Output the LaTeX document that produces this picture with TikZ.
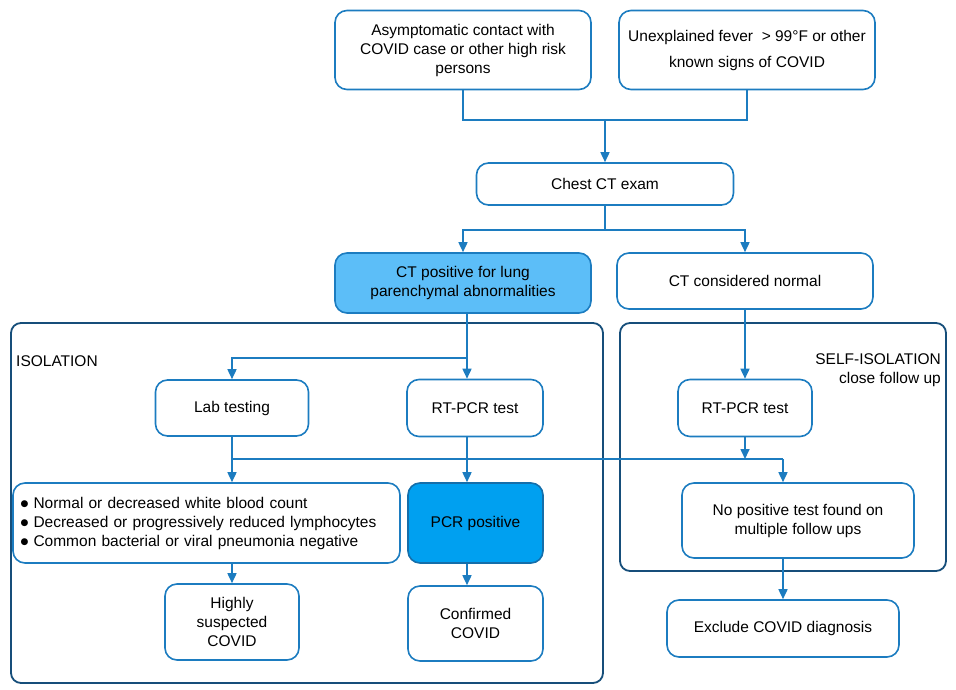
\documentclass[tikz,border=0pt]{standalone}
\usepackage{fontspec}
\setmainfont{Liberation Sans}
\newfontfamily\symfont{DejaVu Sans}
\usetikzlibrary{arrows.meta, positioning}
\definecolor{boxblue}{RGB}{28,124,192}
\definecolor{grpblue}{RGB}{22,78,122}
\definecolor{ctfill}{RGB}{92,190,248}
\definecolor{pcrfill}{RGB}{0,160,240}
\definecolor{pcredge}{RGB}{20,110,170}
\newcommand{\bul}{\raisebox{1.2pt}{\symfont\fontsize{9}{9}\selectfont ●}\ }
\tikzset{
  box/.style    = {draw=boxblue, line width=1.6pt, rounded corners=12pt, fill=white,
                   align=center, font=\fontsize{15.5}{19}\selectfont, inner sep=3pt},
  ctbox/.style  = {box, fill=ctfill},
  pcrbox/.style = {box, fill=pcrfill, draw=pcredge},
  group/.style  = {draw=grpblue, line width=1.8pt, rounded corners=10pt},
  line/.style   = {draw=boxblue, line width=1.6pt},
  arrow/.style  = {line, -{Triangle[length=10pt, width=9pt]}},
  tag/.style    = {font=\fontsize{15.5}{19}\selectfont, inner sep=0pt},
}

\begin{document}
\begin{tikzpicture}[x=1pt, y=-1pt]
  \useasboundingbox (0,0) rectangle (956,690);
  % containers
  \node[group, minimum width=592pt, minimum height=360pt] (iso) at (307,503) {};
  \node[group, minimum width=326pt, minimum height=248pt] (selfiso) at (783,447) {};
  \node[tag, anchor=west] (isolbl) at (16,361) {ISOLATION};
  \node[tag, anchor=east, align=right] (selflbl) at (941,370.5) {SELF-ISOLATION\\close follow up};
  % top level
  \node[box, minimum width=256pt, minimum height=79pt] (asym) at (463,50)
    {Asymptomatic contact with\\COVID case or other high risk\\persons};
  \node[box, minimum width=256pt, minimum height=79pt] (fever) at (747,50)
    {Unexplained fever~ > 99°F or other\\[7pt]known signs of COVID};
  \node[box, minimum width=257pt, minimum height=42pt] (ct) at (605,184) {Chest CT exam};
  \node[ctbox, minimum width=256pt, minimum height=60pt] (ctpos) at (463,283)
    {CT positive for lung\\parenchymal abnormalities};
  \node[box, minimum width=256pt, minimum height=56pt] (ctnorm) at (745,281) {CT considered normal};
  % isolation branch
  \node[box, minimum width=153pt, minimum height=56pt] (lab) at (232,408) {Lab testing};
  \node[box, minimum width=136pt, minimum height=57pt] (pcrl) at (475,408) {RT-PCR test};
  \node[box, minimum width=387pt, minimum height=80pt, text width=372pt, align=left] (crit) at (206.5,523)
    {\bul Normal or decreased white blood count\\
     \bul Decreased or progressively reduced lymphocytes\\
     \bul Common bacterial or viral pneumonia negative};
  \node[pcrbox, minimum width=135pt, minimum height=80pt] (pcrpos) at (475.5,523) {PCR positive};
  \node[box, minimum width=134pt, minimum height=76pt] (suspect) at (232,622) {Highly\\suspected\\COVID};
  \node[box, minimum width=135pt, minimum height=75pt] (confirm) at (475.5,623.5) {Confirmed\\COVID};
  % self-isolation branch
  \node[box, minimum width=134pt, minimum height=57pt] (pcrr) at (745,408) {RT-PCR test};
  \node[box, minimum width=232pt, minimum height=75pt] (nopos) at (798,520.5)
    {No positive test found on\\multiple follow ups};
  \node[box, minimum width=232pt, minimum height=57pt] (exclude) at (783,628.5) {Exclude COVID diagnosis};
  % junctions
  \coordinate (m1) at (605,120);
  \coordinate (m2) at (605,230);
  \coordinate (m3) at (467,358);
  \coordinate (m4) at (232,459);
  \coordinate (m5) at (783,459);
  % connectors
  \draw[line] (asym) |- (m1) -| (fever);
  \draw[arrow] (m1) -- (ct);
  \draw[line] (ct) -- (m2);
  \draw[arrow] (m2) -| (ctpos);
  \draw[arrow] (m2) -| (ctnorm);
  \draw[line] (ctpos.south -| m3) -- (m3);
  \draw[arrow] (m3) -- (pcrl.north -| m3);
  \draw[arrow] (m3) -| (lab);
  \draw[arrow] (ctnorm) -- (pcrr);
  \draw[arrow] (lab) -- (crit.north -| lab);
  \draw[line] (m4) -- (m5);
  \draw[arrow] (m5) -- (nopos.north -| m5);
  \draw[arrow] (pcrr) -- (pcrr.south |- m4);
  \draw[arrow] (pcrl.south -| m3) -- (pcrpos.north -| m3);
  \draw[arrow] (crit.south -| lab) -- (suspect);
  \draw[arrow] (pcrpos.south -| m3) -- (confirm.north -| m3);
  \draw[arrow] (nopos.south -| m5) -- (exclude);
\end{tikzpicture}
\end{document}
